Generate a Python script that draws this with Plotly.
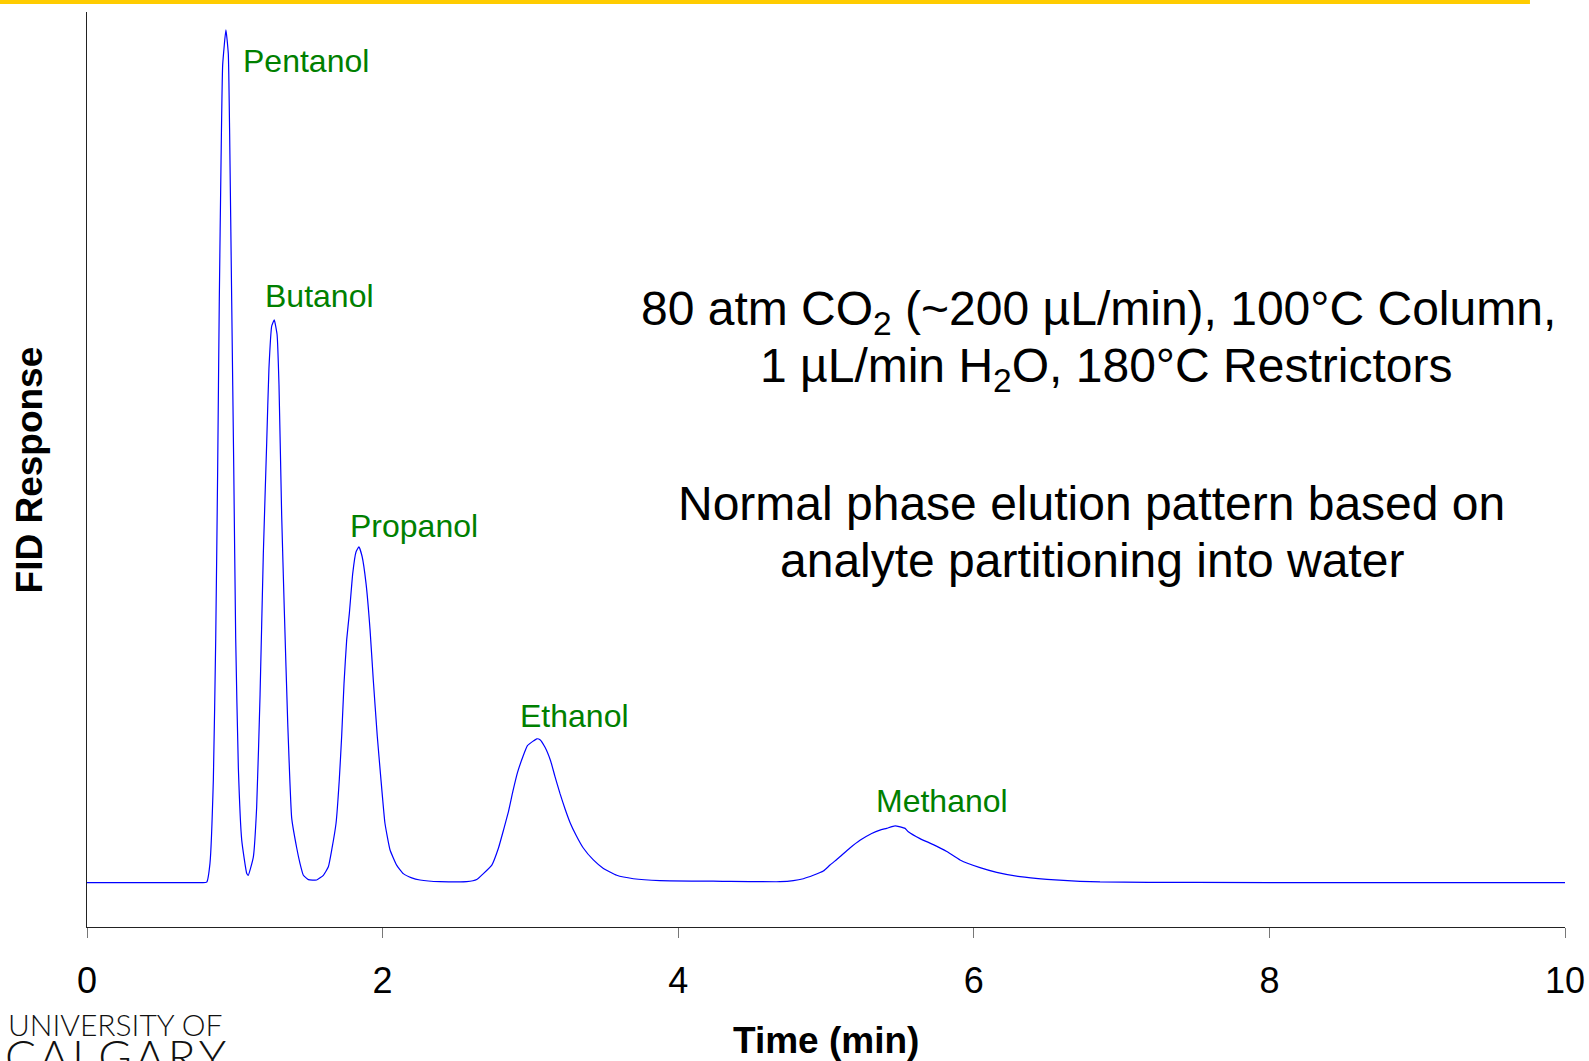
import plotly.graph_objects as go

# ---- data ----
time_min = [0.0, 0.4, 0.78, 0.81, 0.832, 0.855, 0.871, 0.884, 0.895, 0.907, 0.918, 0.940, 0.956, 0.965,
            0.979, 0.993, 1.006, 1.024, 1.047, 1.081, 1.091, 1.125, 1.148, 1.171, 1.193, 1.216,
            1.231, 1.250, 1.267, 1.286, 1.299, 1.317, 1.335, 1.358, 1.385, 1.419, 1.441, 1.464,
            1.498, 1.554, 1.599, 1.633, 1.656, 1.685, 1.707, 1.723, 1.739, 1.757, 1.775, 1.798,
            1.820, 1.840, 1.861, 1.888, 1.915, 1.937, 1.964, 1.987, 2.016, 2.050, 2.095, 2.140,
            2.197, 2.253, 2.388, 2.569, 2.637, 2.682, 2.739, 2.784, 2.818, 2.852, 2.881, 2.912,
            2.949, 2.980, 3.016, 3.043, 3.065, 3.099, 3.137, 3.166, 3.200, 3.234, 3.268, 3.309,
            3.358, 3.426, 3.494, 3.584, 3.697, 3.877, 4.3, 4.689, 4.779, 4.847, 4.914, 4.982, 5.027,
            5.083, 5.162, 5.230, 5.309, 5.365, 5.410, 5.467, 5.535, 5.557, 5.636, 5.726, 5.817,
            5.907, 6.042, 6.155, 6.313, 6.495, 6.719, 6.854, 7.5, 8.5, 10.0]
fid_response = [0.05, 0.05, 0.05, 0.1, 2.3, 12.2, 28.7, 48.4, 68.2, 84.7, 95.9, 100.0, 97.2, 88.0,
                68.2, 48.4, 28.7, 13.5, 5.0, 1.1, 0.9, 3.0, 8.9, 22.1, 38.6, 51.7,
                60.3, 65.3, 66.0, 64.3, 58.4, 43.2, 32.0, 18.8, 7.6, 4.1, 2.3, 0.9,
                0.4, 0.35, 0.9, 1.9, 3.9, 7.0, 12.1, 17.2, 23.4, 28.5, 31.6, 36.3,
                38.8, 39.4, 38.3, 35.1, 29.7, 23.8, 17.2, 12.5, 7.0, 3.9, 2.1, 1.1,
                0.6, 0.35, 0.15, 0.15, 0.4, 1.1, 2.1, 4.1, 6.2, 8.4, 10.7, 12.9,
                14.8, 16.1, 16.6, 16.9, 16.8, 15.9, 14.3, 12.5, 10.5, 8.7, 7.1, 5.6,
                4.1, 2.7, 1.7, 0.9, 0.5, 0.27, 0.2, 0.15, 0.27, 0.5, 0.9, 1.4, 2.1,
                2.9, 4.1, 5.0, 5.8, 6.2, 6.4, 6.7, 6.4, 6.0, 5.2, 4.5, 3.7,
                2.7, 1.8, 1.25, 0.74, 0.43, 0.2, 0.12, 0.06, 0.05, 0.05]

peak_names = ["Pentanol", "Butanol", "Propanol", "Ethanol", "Methanol"]
peak_label_x = [1.042, 1.189, 1.765, 2.917, 5.325]
peak_label_y = [96.4, 68.8, 41.85, 19.6, 9.66]

x_ticks = [0, 2, 4, 6, 8, 10]

info_lines = [
    "80 atm CO<sub>2</sub> (~200 µL/min), 100°C Column,",
    "1 µL/min H<sub>2</sub>O, 180°C Restrictors",
    "Normal phase elution pattern based on",
    "analyte partitioning into water",
]
info_x = [0.6844, 0.6894, 0.6796, 0.680]
info_y = [0.6721, 0.6098, 0.4623, 0.401]

FONT = "Arial, 'Liberation Sans', sans-serif"
HS = "\u200a"

fig = go.Figure()
fig.add_trace(go.Scatter(
    x=time_min, y=fid_response, mode="lines",
    line=dict(color="#0000FF", width=1.2, shape="spline", smoothing=0.4),
    hoverinfo="skip", showlegend=False,
))

annotations = []
for name, ax, ay in zip(peak_names, peak_label_x, peak_label_y):
    annotations.append(dict(x=ax, y=ay, xref="x", yref="y", text=name, showarrow=False,
                            xanchor="left", yanchor="middle",
                            font=dict(family=FONT, size=32, color="#008000")))
for t, ix, iy in zip(info_lines, info_x, info_y):
    annotations.append(dict(x=ix, y=iy, xref="paper", yref="paper", text=t, showarrow=False,
                            xanchor="center", yanchor="middle",
                            font=dict(family=FONT, size=48, color="#000000")))
# axis titles
annotations.append(dict(x=0.5, y=-0.1245, xref="paper", yref="paper", text="<b>Time (min)</b>",
                        showarrow=False, xanchor="center", yanchor="middle",
                        font=dict(family=FONT, size=37, color="#000000")))
annotations.append(dict(x=-0.0386, y=0.5, xref="paper", yref="paper", text="<b>FID Response</b>",
                        showarrow=False, xanchor="center", yanchor="middle", textangle=-90,
                        font=dict(family=FONT, size=37, color="#000000")))
# logo text
annotations.append(dict(x=-0.0545, y=-0.1065, xref="paper", yref="paper", text="UNIVERSITY OF",
                        showarrow=False, xanchor="left", yanchor="middle",
                        font=dict(family="Lato, 'Open Sans', sans-serif", size=30, color="#111111",
                                  weight=300)))
annotations.append(dict(x=-0.0565, y=-0.1085, xref="paper", yref="paper", text=HS.join("CALGARY"),
                        showarrow=False, xanchor="left", yanchor="top",
                        font=dict(family="Lato, 'Open Sans', sans-serif", size=46, color="#111111",
                                  weight=300)))

fig.update_layout(
    width=1589, height=1061,
    margin=dict(l=87, r=24, t=12, b=134),
    paper_bgcolor="white", plot_bgcolor="white",
    showlegend=False,
    annotations=annotations,
    shapes=[dict(type="rect", xref="paper", yref="paper",
                 x0=-0.0589, x1=0.9763, y0=1.0087, y1=1.0131,
                 fillcolor="#FFCC00", line=dict(width=0), layer="above")],
    xaxis=dict(range=[0, 10], tickvals=x_ticks, ticktext=[str(v) for v in x_ticks],
               showgrid=False, zeroline=False, showline=True, linecolor="#222222", linewidth=1,
               ticks="outside", ticklen=10, tickcolor="#777777", tickwidth=1,
               ticklabelstandoff=12, ticklabeloverflow="allow", automargin=False,
               tickfont=dict(family=FONT, size=36, color="#000000")),
    yaxis=dict(range=[-5.16, 102.1], showgrid=False, zeroline=False, showline=True,
               linecolor="#222222", linewidth=1, ticks="", showticklabels=False,
               automargin=False),
)

fig.write_html("out.html")
